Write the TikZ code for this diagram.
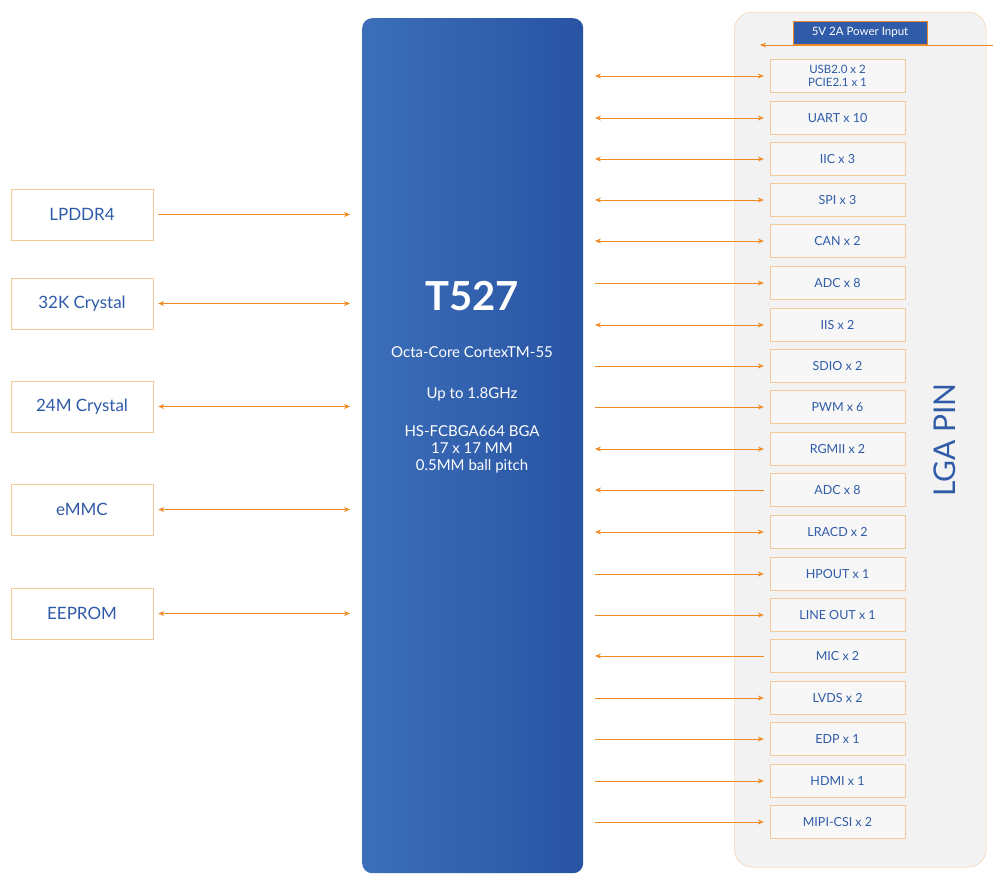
\documentclass[tikz,border=0pt]{standalone}
\usepackage{fontspec}
\setmainfont{Lato}
\usetikzlibrary{arrows.meta}
\definecolor{tb}{HTML}{2F5BA8}
\definecolor{og}{HTML}{F08A24}
\definecolor{obox}{HTML}{F5C89A}
\begin{document}
\begin{tikzpicture}[x=1pt,y=-1pt,
  lbox/.style={draw=obox,fill=white,minimum width=142pt,minimum height=51pt,text=tb,font=\fontsize{17}{20}\selectfont,inner sep=0},
  rbox/.style={draw=obox,fill=white!40!gray!10,minimum width=135pt,minimum height=33pt,text=tb,font=\fontsize{12.5}{13}\selectfont,inner sep=0,align=center},
  con/.style={draw=og,line width=0.9pt},
  both/.style={con,{Stealth[length=6pt,width=5pt]}-{Stealth[length=6pt,width=5pt]}},
  rto/.style={con,-{Stealth[length=6pt,width=5pt]}},
  lto/.style={con,{Stealth[length=6pt,width=5pt]}-}]
\useasboundingbox (0,0) rectangle (998,884);
% chip
\node[draw=none,rounded corners=10pt,left color={rgb,255:red,60;green,110;blue,185},right color={rgb,255:red,40;green,84;blue,163},minimum width=221pt,minimum height=855pt,anchor=north west,inner sep=0] (chip) at (362,18) {};
\node[text=white,font=\bfseries\fontsize{40}{44}\selectfont] (t) at (472,296) {T527};
\node[text=white,font=\fontsize{15}{17}\selectfont,align=center] (d1) at (472,352) {Octa-Core CortexTM-55};
\node[text=white,font=\fontsize{15}{17}\selectfont] (d2) at (472,394) {Up to 1.8GHz};
\node[text=white,font=\fontsize{15}{17}\selectfont,align=center] (d3) at (472,449) {HS-FCBGA664 BGA\\17 x 17 MM\\0.5MM ball pitch};
% left
\foreach \n/\t/\y in {a/LPDDR4/214.5,b/32K Crystal/303.5,c/24M Crystal/406.5,d/eMMC/509.5,e/EEPROM/613.5}{
  \node[lbox] (\n) at (82,\y) {\t};
  \coordinate (\n c) at (350,\y);}
\draw[rto] (a.east)++(5,0) -- (ac);
\foreach \n in {b,c,d,e}{\draw[both] (\n.east)++(5,0) -- (\n c);}
% panel
\node[draw=obox,fill=gray!10,rounded corners=18pt,minimum width=252pt,minimum height=855pt,anchor=north west,inner sep=0] (panel) at (734,12) {};
\node[rotate=90,text=tb,font=\fontsize{30}{32}\selectfont] (lga) at (945,440) {LGA PIN};
\node[draw=og,fill=tb,text=white,minimum width=134pt,minimum height=23pt,inner sep=0,font=\fontsize{11.5}{12}\selectfont] (pw) at (860,32.5) {5V 2A Power Input};
\coordinate (pin) at (993,45);
\coordinate (pout) at (760,45);
\draw[rto] (pin) -- (pout);
\node[rbox,font=\fontsize{11.5}{12.5}\selectfont] (r1) at (837.5,76) {USB2.0 x 2\\PCIE2.1 x 1};
\coordinate (s1) at (595,76);
\draw[both] (s1) -- ([xshift=-6pt]r1.west);
\foreach \i/\t/\y/\s in {2/UART x 10/118/both,3/IIC x 3/159/both,4/SPI x 3/200/both,5/CAN x 2/241/both,6/ADC x 8/283/rto,7/IIS x 2/325/both,8/SDIO x 2/366/rto,9/PWM x 6/407/rto,10/RGMII x 2/449/both,11/ADC x 8/490/lto,12/LRACD x 2/532/both,13/HPOUT x 1/574/rto,14/LINE OUT x 1/615/rto,15/MIC x 2/656/lto,16/LVDS x 2/698/rto,17/EDP x 1/739/rto,18/HDMI x 1/781/rto,19/MIPI-CSI x 2/822/rto}{
  \node[rbox] (r\i) at (837.5,\y) {\t};
  \coordinate (s\i) at (595,\y);
  \draw[\s] (s\i) -- ([xshift=-6pt]r\i.west);}
\end{tikzpicture}
\end{document}
